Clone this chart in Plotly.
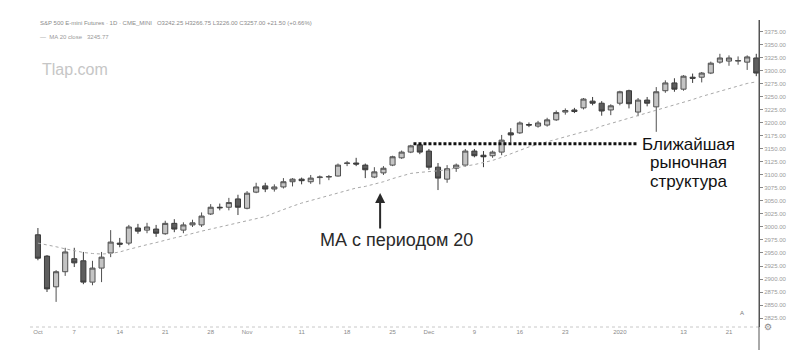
import plotly.graph_objects as go

# ---------------- data ----------------
dates = [
    "2019-10-01", "2019-10-02", "2019-10-03", "2019-10-04", "2019-10-07", "2019-10-08", "2019-10-09",
    "2019-10-10", "2019-10-11", "2019-10-14", "2019-10-15", "2019-10-16", "2019-10-17", "2019-10-18",
    "2019-10-21", "2019-10-22", "2019-10-23", "2019-10-24", "2019-10-25", "2019-10-28", "2019-10-29",
    "2019-10-30", "2019-10-31", "2019-11-01", "2019-11-04", "2019-11-05", "2019-11-06", "2019-11-07",
    "2019-11-08", "2019-11-11", "2019-11-12", "2019-11-13", "2019-11-14", "2019-11-15", "2019-11-18",
    "2019-11-19", "2019-11-20", "2019-11-21", "2019-11-22", "2019-11-25", "2019-11-26", "2019-11-27",
    "2019-11-29", "2019-12-02", "2019-12-03", "2019-12-04", "2019-12-05", "2019-12-06", "2019-12-09",
    "2019-12-10", "2019-12-11", "2019-12-12", "2019-12-13", "2019-12-16", "2019-12-17", "2019-12-18",
    "2019-12-19", "2019-12-20", "2019-12-23", "2019-12-24", "2019-12-26", "2019-12-27", "2019-12-30",
    "2019-12-31", "2020-01-02", "2020-01-03", "2020-01-06", "2020-01-07", "2020-01-08", "2020-01-09",
    "2020-01-10", "2020-01-13", "2020-01-14", "2020-01-15", "2020-01-16", "2020-01-17", "2020-01-21",
    "2020-01-22", "2020-01-23", "2020-01-24",
]

opens = [2985, 2944, 2885, 2914, 2939, 2935, 2894, 2921, 2950, 2969, 2969, 2998, 2994, 2996, 2987, 3007,
         2994, 3004, 3004, 3025, 3038, 3038, 3054, 3036, 3067, 3079, 3073, 3077, 3087, 3092, 3087, 3095,
         3096, 3098, 3122, 3123, 3119, 3096, 3104, 3119, 3133, 3144, 3158, 3146, 3115, 3092, 3113, 3119,
         3146, 3138, 3137, 3144, 3181, 3181, 3197, 3194, 3196, 3206, 3221, 3225, 3229, 3242, 3238, 3225,
         3238, 3262, 3221, 3244, 3231, 3262, 3277, 3265, 3288, 3288, 3296, 3317, 3319, 3319, 3317, 3325]
highs = [2998, 2946, 2917, 2960, 2960, 2952, 2935, 2952, 2994, 2979, 3004, 3006, 3008, 3004, 3012, 3015,
         3009, 3014, 3028, 3044, 3045, 3056, 3062, 3069, 3085, 3085, 3082, 3094, 3094, 3095, 3100, 3099,
         3100, 3122, 3127, 3133, 3122, 3115, 3117, 3137, 3147, 3158, 3160, 3150, 3123, 3119, 3122, 3150,
         3150, 3146, 3147, 3177, 3190, 3203, 3201, 3204, 3210, 3224, 3228, 3229, 3248, 3250, 3242, 3236,
         3262, 3264, 3248, 3250, 3269, 3282, 3286, 3292, 3295, 3298, 3318, 3333, 3330, 3328, 3330, 3333]
lows = [2936, 2875, 2856, 2906, 2923, 2890, 2888, 2894, 2942, 2961, 2965, 2987, 2988, 2981, 2985, 2990,
        2988, 3000, 3000, 3023, 3032, 3032, 3023, 3034, 3065, 3067, 3068, 3074, 3078, 3082, 3083, 3082,
        3090, 3097, 3117, 3117, 3094, 3094, 3100, 3117, 3131, 3142, 3140, 3110, 3071, 3085, 3106, 3116,
        3134, 3115, 3133, 3138, 3163, 3179, 3192, 3191, 3193, 3204, 3216, 3219, 3226, 3234, 3214, 3215,
        3234, 3228, 3213, 3232, 3183, 3258, 3260, 3262, 3277, 3278, 3294, 3314, 3310, 3312, 3302, 3290]
closes = [2940, 2881, 2914, 2952, 2931, 2894, 2921, 2942, 2971, 2967, 3000, 2992, 3000, 2988, 3007, 2996,
          3004, 3008, 3021, 3038, 3037, 3047, 3038, 3065, 3077, 3073, 3077, 3087, 3092, 3089, 3094, 3096,
          3097, 3119, 3123, 3121, 3110, 3106, 3113, 3135, 3144, 3156, 3144, 3115, 3094, 3112, 3119, 3146,
          3137, 3135, 3144, 3167, 3177, 3200, 3196, 3200, 3206, 3220, 3224, 3222, 3246, 3238, 3223, 3233,
          3260, 3237, 3244, 3238, 3260, 3277, 3265, 3290, 3286, 3296, 3315, 3325, 3325, 3320, 3327, 3296]
ma20 = [2969, 2966, 2962, 2958, 2954, 2951, 2949, 2948, 2949, 2952, 2957, 2962, 2966, 2970, 2975, 2979,
        2983, 2988, 2992, 2996, 3000, 3004, 3008, 3012, 3016, 3020, 3027, 3034, 3040, 3046, 3051, 3056,
        3061, 3066, 3071, 3075, 3078, 3082, 3087, 3093, 3098, 3103, 3105, 3106, 3108, 3110, 3114, 3117,
        3120, 3124, 3128, 3134, 3141, 3148, 3154, 3159, 3164, 3169, 3174, 3178, 3183, 3187, 3194, 3199,
        3204, 3209, 3215, 3220, 3225, 3230, 3235, 3240, 3245, 3251, 3256, 3261, 3266, 3272, 3276, 3279]

tick_dates = ["2019-10-01", "2019-10-07", "2019-10-14", "2019-10-21", "2019-10-28", "2019-11-01",
              "2019-11-11", "2019-11-18", "2019-11-25", "2019-12-02", "2019-12-09", "2019-12-16",
              "2019-12-23", "2020-01-02", "2020-01-13", "2020-01-21"]
tick_text = ["Oct", "7", "14", "21", "28", "Nov", "11", "18", "25", "Dec", "9", "16", "23", "2020", "13", "21"]

price_ticks = list(range(2825, 3376, 25))

structure_level = 3160      # nearest market structure level
structure_from = "2019-11-27"

# ---------------- figure ----------------
idx = list(range(len(dates)))
pos = {d: i for i, d in enumerate(dates)}

W, H = 799, 354
L, R, T, B = 30, 34, 20, 27
pw, ph = W - L - R, H - T - B


def px(x):
    return (x - L) / pw


def py(y):
    return 1 - (y - T) / ph


fig = go.Figure()

fig.add_trace(go.Scatter(
    x=idx, y=ma20, mode="lines",
    line=dict(color="#a8a8a8", width=1, dash="dot"),
    hoverinfo="skip", showlegend=False,
))

fig.add_trace(go.Candlestick(
    x=idx, open=opens, high=highs, low=lows, close=closes,
    increasing=dict(line=dict(color="#505050", width=1), fillcolor="#c4c4c4"),
    decreasing=dict(line=dict(color="#3a3a3a", width=1), fillcolor="#5e5e5e"),
    whiskerwidth=0, showlegend=False,
))

# dotted "nearest market structure" line
fig.add_shape(type="line", xref="x", yref="y",
              x0=pos[structure_from] + 0.3, x1=65.9, y0=structure_level, y1=structure_level,
              line=dict(color="#111111", width=3, dash="3px,2px"))

# bottom dashed axis line and right separator
fig.add_shape(type="line", xref="paper", yref="paper", x0=0, x1=1, y0=0, y1=0,
              line=dict(color="#c8c8c8", width=1, dash="dot"))
fig.add_shape(type="line", xref="paper", yref="paper", x0=1, x1=1, y0=py(350), y1=1,
              line=dict(color="#555555", width=1))

annos = []
# header
annos.append(dict(xref="paper", yref="paper", x=px(38), y=py(23), xanchor="left", yanchor="middle",
                  text="S&P 500 E-mini Futures · 1D · CME_MINI   O3242.25 H3266.75 L3226.00 C3257.00 +21.50 (+0.66%)",
                  showarrow=False, font=dict(size=6, color="#8a8a8a", family="Liberation Sans")))
annos.append(dict(xref="paper", yref="paper", x=px(38), y=py(37), xanchor="left", yanchor="middle",
                  text="—  MA 20 close   3245.77",
                  showarrow=False, font=dict(size=6, color="#9a9a9a", family="Liberation Sans")))
annos.append(dict(xref="paper", yref="paper", x=px(40), y=py(70), xanchor="left", yanchor="middle",
                  text="Tlap.com", showarrow=False,
                  font=dict(size=16, color="#c6c6c6", family="Liberation Sans")))
# MA label + arrow
annos.append(dict(xref="paper", yref="paper", x=px(400), y=py(240), xanchor="center", yanchor="middle",
                  text="МА с периодом 20", showarrow=False,
                  font=dict(size=18, color="#2a2a2a", family="Liberation Sans")))
annos.append(dict(xref="paper", yref="paper", x=px(383), y=py(193), ax=0, ay=37, text="",
                  showarrow=True, arrowhead=2, arrowsize=1, arrowwidth=2, arrowcolor="#2a2a2a"))
# structure label
for k, line_txt in enumerate(["Ближайшая", "рыночная", "структура"]):
    annos.append(dict(xref="paper", yref="paper", x=px(694), y=py(144 + 18.5 * k),
                      xanchor="center", yanchor="middle", text=line_txt, showarrow=False,
                      font=dict(size=17, color="#111111", family="Liberation Sans")))
# corner marks
annos.append(dict(xref="paper", yref="paper", x=px(752), y=py(318), text="A", showarrow=False,
                  font=dict(size=6, color="#777777", family="Liberation Sans")))
annos.append(dict(xref="paper", yref="paper", x=px(780), y=py(334), text="⚙", showarrow=False,
                  font=dict(size=9, color="#888888", family="DejaVu Sans")))

fig.update_layout(
    width=W, height=H,
    margin=dict(l=L, r=R, t=T, b=B),
    paper_bgcolor="white", plot_bgcolor="white",
    annotations=annos,
    boxgap=0.2,
    xaxis=dict(
        range=[-0.87, 79.3], showgrid=False, zeroline=False, showline=False,
        rangeslider=dict(visible=False),
        tickvals=[pos[d] for d in tick_dates], ticktext=tick_text,
        ticks="", tickfont=dict(size=6, color="#8a8a8a", family="Liberation Sans"),
    ),
    yaxis=dict(
        side="right", range=[2807.7, 3398], showgrid=False, zeroline=False,
        showline=True, linecolor="#555555", linewidth=1,
        tickvals=price_ticks, ticktext=[f"{v:.2f}" for v in price_ticks],
        ticks="outside", ticklen=3, tickcolor="#888888",
        tickfont=dict(size=6, color="#9a9a9a", family="Liberation Sans"),
    ),
)

fig.write_html("out.html")
